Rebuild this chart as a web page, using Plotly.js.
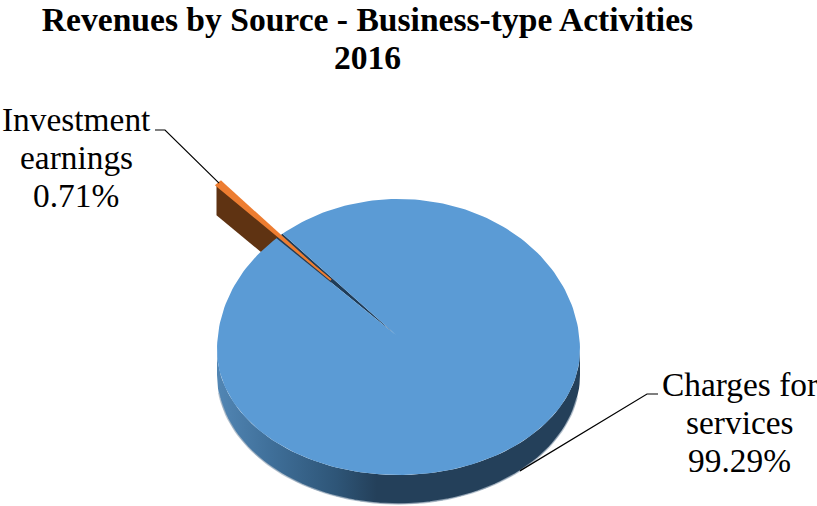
<!DOCTYPE html>
<html>
<head>
<meta charset="utf-8">
<script src="https://cdn.plot.ly/plotly-3.0.1.min.js"></script>
<style>html,body{margin:0;padding:0;background:#fff}#chart{width:817px;height:506px}</style>
</head>
<body>
<div id="chart"></div>
<script>
// Revenue shares, in percent
const categories = ['Charges for services', 'Investment earnings'];
const shares = [99.29, 0.71];

const chartTitle = 'Revenues by Source - Business-type Activities';
const chartYear = '2016';

// Tilted-disc geometry on a 817x506 plot area
const disc = {cx: 398.5, cy: 350, rx: 181.5, ryUp: 151, ryDown: 125, hubX: 396, hubY: 335};
const base = {cy: 375, ry: 129};
const firstAngle = 320.3;         // clockwise from 12 o'clock
const pulled = {cx: 331, cy: 280, scale: 0.89, depth: 30, turn: -2.9};

const serif = 'Liberation Serif, Times New Roman, serif';
const rad = d => d * Math.PI / 180;

function rim(c, deg, scale) {
  const s = scale === undefined ? 1 : scale;
  const co = Math.cos(rad(deg));
  return [c.cx + s * disc.rx * Math.sin(rad(deg)),
          c.cy - s * (co > 0 ? disc.ryUp : disc.ryDown) * co];
}
function polygon(pts, color, lineWidth) {
  return {
    type: 'scatter', mode: 'lines', hoverinfo: 'skip', fill: 'toself',
    x: pts.map(p => p[0]), y: pts.map(p => p[1]),
    fillcolor: color, line: {color: color, width: lineWidth || 0}
  };
}
function arc(c, from, to, scale) {
  const n = Math.max(2, Math.ceil(Math.abs(to - from) / 1.5));
  const pts = [];
  for (let i = 0; i <= n; i++) pts.push(rim(c, from + (to - from) * i / n, scale));
  return pts;
}
function wall(deg) {
  return [disc.cx + disc.rx * Math.sin(rad(deg)), base.cy - base.ry * Math.cos(rad(deg))];
}

const total = shares[0] + shares[1];
const sweepMain = 360 * shares[0] / total;
const sweepSmall = 360 * shares[1] / total;
const mainEnd = firstAngle + sweepMain;
const smallEnd = mainEnd + sweepSmall;

const traces = [];

// Cut face of the pulled-out slice, sitting behind the main disc
const nearEdge = rim(pulled, mainEnd + pulled.turn, pulled.scale);
const apex = [pulled.cx, pulled.cy];
traces.push(polygon([
  nearEdge,
  [nearEdge[0], nearEdge[1] + pulled.depth],
  [apex[0], apex[1] + pulled.depth],
  apex
], '#5f3312'));

// Wall of the disc, shaded from left to right
const wallTop = [], wallFoot = [];
for (let d = 90; d <= 270; d += 2) { wallTop.push(rim(disc, d)); wallFoot.push(wall(d)); }
const wallShape = polygon(wallTop.concat(wallFoot.slice().reverse()), '#24405a');
wallShape.fillgradient = {
  type: 'horizontal',
  colorscale: [[0, '#5286b4'], [0.15, '#3f6f99'], [0.33, '#2e5577'], [0.44, '#24405a'], [1, '#24405a']]
};
traces.push(wallShape);

// Pale fringe along the foot of the wall
const foot = wallFoot.slice(5, -4);
traces.push({type: 'scatter', mode: 'lines', hoverinfo: 'skip',
  x: foot.map(p => p[0]), y: foot.map(p => p[1]),
  line: {color: 'rgba(165,180,195,0.75)', width: 1.4}});

// Dark gap left where the small slice was pulled out
const hub = [disc.hubX, disc.hubY];
traces.push(polygon([hub].concat(arc(disc, mainEnd, smallEnd)), '#1f3c58'));

// Top of the main slice
traces.push(polygon([hub].concat(arc(disc, firstAngle, mainEnd)), '#5b9bd5'));

// Top of the pulled-out slice
traces.push(polygon([apex].concat(arc(pulled, mainEnd + pulled.turn, smallEnd + pulled.turn, pulled.scale)), '#ed7d31', 2));

// Leader lines from the labels to the slices
const smallTip = rim(pulled, (mainEnd + smallEnd) / 2 + pulled.turn, pulled.scale);
const mainAnchor = wall(138);
traces.push({type: 'scatter', mode: 'lines', hoverinfo: 'skip',
  x: [155, 165, smallTip[0]], y: [130, 130, smallTip[1]], line: {color: '#000', width: 1.2}});
traces.push({type: 'scatter', mode: 'lines', hoverinfo: 'skip',
  x: [658, 647, mainAnchor[0]], y: [394, 394, mainAnchor[1]], line: {color: '#000', width: 1.2}});

function labelLines(x, y, lines) {
  return lines.map((text, i) => ({
    x: x, y: y + i * 38.4, xref: 'x', yref: 'y', text: text, showarrow: false,
    xanchor: 'center', yanchor: 'middle',
    font: {family: serif, size: 33.4, color: '#000'}
  }));
}
const pct = v => v.toFixed(2) + '%';

const annotations = [
  {x: 367, y: 57, xref: 'x', yref: 'y', text: '<b>' + chartYear + '</b>', showarrow: false,
   xanchor: 'center', yanchor: 'middle', font: {family: serif, size: 33.6, color: '#000'}},
  ...labelLines(76, 119, ['Investment', 'earnings', pct(shares[1])]),
  ...labelLines(739.5, 384, ['Charges for', 'services', pct(shares[0])])
];

const layout = {
  width: 817, height: 506,
  margin: {l: 0, r: 0, t: 0, b: 0},
  paper_bgcolor: '#fff', plot_bgcolor: '#fff',
  showlegend: false,
  title: {text: '<b>' + chartTitle + '</b>', x: 367.5 / 817, xanchor: 'center', y: 1 - 19 / 506, yanchor: 'middle',
          font: {family: serif, size: 33.6, color: '#000'}},
  xaxis: {range: [0, 817], visible: false, fixedrange: true},
  yaxis: {range: [506, 0], visible: false, fixedrange: true},
  annotations: annotations
};

Plotly.newPlot('chart', traces, layout, {staticPlot: true, displayModeBar: false});
</script>
</body>
</html>
